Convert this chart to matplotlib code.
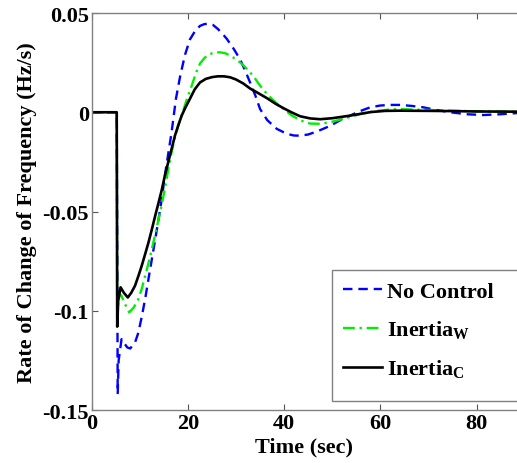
import matplotlib
matplotlib.use("Agg")
import matplotlib.pyplot as plt
from matplotlib.patches import Rectangle

# values (time in s, rate of change in Hz/s)
t_nc = [0, 5.2, 5.4, 5.6, 6.2, 6.8, 7.4, 8.0, 9.0, 9.7, 10.4, 11.1, 11.8,
        12.5, 13.2, 13.9, 14.6, 15.2, 15.9, 16.6, 17.5, 18.4, 19.4, 20.4,
        21.5, 22.5, 23.4, 24.2, 25.2, 26.2, 27.2, 28.1, 29.5, 30.8, 31.9,
        32.9, 34.0, 35.0, 36.5, 38.5, 40.5, 42.0, 43.3, 45.0, 47.0, 49.6,
        51.5, 53.7, 55.8, 57.9, 60.0, 62.0, 64.1, 66.5, 68.9, 71.5, 74.5,
        78.0, 81.4, 85.0, 88.4]
rocof_nc = [0, 0, -0.142, -0.125, -0.1143, -0.1165, -0.1185, -0.119, -0.116,
            -0.111, -0.103, -0.0941, -0.084, -0.074, -0.064, -0.0538, -0.043,
            -0.032, -0.021, -0.0101, 0.0067, 0.0184, 0.029, 0.0366, 0.041,
            0.0435, 0.0444, 0.0446, 0.0440, 0.0420, 0.0395, 0.0369, 0.032,
            0.0268, 0.021, 0.0151, 0.0085, 0.0016, -0.0040, -0.0084, -0.0108,
            -0.0117, -0.0118, -0.0112, -0.0095, -0.0068, -0.0042, -0.0017,
            0.0006, 0.0025, 0.0034, 0.0037, 0.0037, 0.0032, 0.0025, 0.0012,
            0.0, -0.0010, -0.0014, -0.0010, -0.0004]

t_w = [0, 5.2, 5.3, 5.8, 6.2, 7.0, 7.8, 8.7, 9.7, 10.4, 11.1, 11.8, 12.5,
       13.2, 13.9, 14.6, 15.2, 15.9, 16.6, 17.3, 18.0, 18.9, 19.8, 20.8,
       21.7, 22.5, 23.5, 24.5, 25.6, 26.7, 27.8, 28.8, 29.8, 30.8, 32.0,
       33.5, 35.0, 36.5, 38.2, 39.9, 41.5, 43.5, 45.4, 47.5, 49.6, 52.5,
       55.8, 59.0, 62.0, 64.1, 68.0, 74.5, 80.0, 88.4]
rocof_w = [0, 0, -0.100, -0.0915, -0.0925, -0.097, -0.1008, -0.0985,
           -0.0941, -0.089, -0.0824, -0.076, -0.069, -0.0615, -0.0538,
           -0.046, -0.0387, -0.029, -0.0202, -0.0125, -0.0068, 0.0, 0.0067,
           0.0135, 0.0200, 0.0245, 0.0275, 0.0293, 0.0301, 0.0302, 0.0297,
           0.0285, 0.0270, 0.0252, 0.0225, 0.0185, 0.0134, 0.0090, 0.0050,
           0.0016, -0.0015, -0.0042, -0.0057, -0.0058, -0.0050, -0.0032,
           -0.0009, 0.0006, 0.0014, 0.0016, 0.0013, 0.0008, 0.0005, 0.0003]

t_c = [0, 5.2, 5.3, 5.5, 6.0, 6.7, 7.5, 8.2, 9.0, 9.7, 10.4, 11.1, 11.8,
       12.5, 13.2, 13.9, 14.6, 15.2, 15.9, 16.6, 17.3, 18.0, 18.7, 19.5,
       20.4, 21.4, 22.5, 23.7, 25.0, 26.2, 27.5, 28.8, 30.0, 31.5, 32.9,
       34.5, 36.5, 38.2, 39.9, 41.5, 43.3, 45.4, 47.5, 50.0, 53.7, 58.0,
       61.0, 64.1, 70.0, 74.5, 80.0, 88.4]
rocof_c = [0, 0, -0.108, -0.095, -0.0882, -0.091, -0.0933, -0.091, -0.0874,
           -0.0825, -0.0773, -0.0715, -0.0656, -0.059, -0.0521, -0.0455,
           -0.0387, -0.032, -0.0252, -0.0185, -0.0118, -0.0065, -0.0017,
           0.0025, 0.0067, 0.0115, 0.0150, 0.0168, 0.0177, 0.0181, 0.0181,
           0.0176, 0.0165, 0.0145, 0.0120, 0.0098, 0.0070, 0.0043, 0.0020,
           0.0000, -0.0020, -0.0031, -0.0035, -0.0030, -0.0017, 0.0001,
           0.0007, 0.0008, 0.0007, 0.0006, 0.0004, 0.0003]

labels = ["No Control", r"Inertia$_{\mathrm{W}}$", r"Inertia$_{\mathrm{C}}$"]
xticks = [0, 20, 40, 60, 80]
yticks = [-0.15, -0.1, -0.05, 0, 0.05]
ytick_labels = ["-0.15", "-0.1", "-0.05", "0", "0.05"]

plt.rcParams["font.family"] = ["Liberation Serif", "DejaVu Serif"]
plt.rcParams["font.weight"] = "bold"
plt.rcParams["mathtext.fontset"] = "custom"
plt.rcParams["mathtext.rm"] = "Liberation Serif"

fig = plt.figure(figsize=(5.17, 4.64), dpi=100)
ax = fig.add_axes([0.1774, 0.1142, 0.8226, 0.8556])

ax.plot(t_nc, rocof_nc, color="#0000FF", lw=1.7, ls=(0, (4, 2.5)),
        label=labels[0])
ax.plot(t_w, rocof_w, color="#00EE00", lw=1.7, ls=(0, (5, 2, 1, 2)),
        label=labels[1])
ax.plot(t_c, rocof_c, color="black", lw=1.9, label=labels[2])

ax.set_xlim(0, 88.4)
ax.set_ylim(-0.15, 0.05)
ax.set_xticks(xticks)
ax.set_yticks(yticks)
ax.set_yticklabels(ytick_labels)
ax.tick_params(direction="in", top=True, length=4, width=0.8,
               color="#555555", labelsize=16, pad=2)
for s in ("left", "bottom", "top"):
    ax.spines[s].set_color("#808080")
    ax.spines[s].set_linewidth(1.0)
ax.spines["right"].set_visible(False)

ax.set_xlabel("Time (sec)", fontsize=16, fontweight="bold", labelpad=3)
ax.set_ylabel("Rate of Change of Frequency (Hz/s)", fontsize=16,
              fontweight="bold", labelpad=4)

# legend box: frame drawn separately so it runs off the right edge
frame = Rectangle((332 / 517, 1 - 402 / 464), 0.4, (402 - 271) / 464,
                  transform=fig.transFigure, facecolor="white",
                  edgecolor="#808080", lw=1.0, zorder=4, clip_on=False)
ax.add_patch(frame)
leg = ax.legend(loc="upper left", bbox_to_anchor=(0.642, 0.416),
                bbox_transform=fig.transFigure, frameon=False,
                fontsize=16, handlelength=1.75, handletextpad=0.25,
                labelspacing=0.75, borderpad=0.5, borderaxespad=0)
leg.set_zorder(5)

fig.savefig("out.png", dpi=100)
